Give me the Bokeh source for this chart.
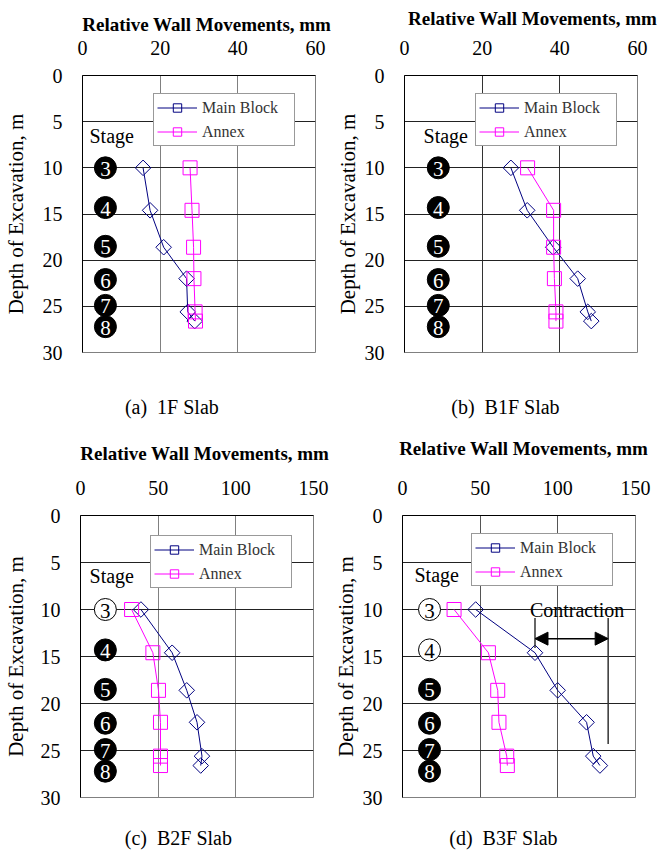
from bokeh.plotting import figure
from bokeh.models import (Range1d, FixedTicker, Legend, LegendItem, Arrow, NormalHead,
                          Label, LinearAxis)
from bokeh.layouts import column, row
from bokeh.core.properties import value
from bokeh.embed import file_html
from bokeh.resources import INLINE

# ---------------- data ----------------
depth = [10.0, 14.6, 18.6, 22.0, 25.6, 26.6]

main_1f = [15.6, 17.4, 20.9, 26.8, 27.1, 28.9]
annex_1f = [27.7, 28.2, 28.6, 28.7, 29.0, 29.1]

main_b1f = [27.4, 31.6, 38.3, 44.6, 47.2, 48.1]
annex_b1f = [31.7, 38.4, 38.4, 38.6, 39.0, 39.0]

main_b2f = [38.9, 59.0, 68.4, 75.0, 78.2, 77.4]
annex_b2f = [32.9, 46.6, 50.2, 51.5, 51.5, 51.5]

main_b3f = [47.1, 85.3, 99.9, 118.5, 122.8, 127.1]
annex_b3f = [33.2, 55.3, 61.3, 62.1, 67.1, 67.5]

stages = ["3", "4", "5", "6", "7", "8"]
stage_depth = [10.0, 14.3, 18.5, 22.1, 24.9, 27.2]

depth_ticks = [0, 5, 10, 15, 20, 25, 30]
ticks_small = [0, 20, 40, 60]
ticks_large = [0, 50, 100, 150]

x_title = "Relative Wall Movements, mm"
y_title = "Depth of Excavation, m"
captions = ["(a)\u00a0 1F Slab", "(b)\u00a0 B1F Slab", "(c)\u00a0 B2F Slab", "(d)\u00a0 B3F Slab"]
series_names = ["Main Block", "Annex"]

FONT = "Liberation Serif"
MAIN_COLOR = "#000080"
ANNEX_COLOR = "#FF00FF"


def text_axis(tick, text, size, style, standoff):
    """An axis without line or ticks that carries one text (title/caption)."""
    ax = LinearAxis(ticker=FixedTicker(ticks=[tick]),
                    major_label_overrides={tick: text})
    ax.major_label_text_font = FONT
    ax.major_label_text_font_size = size
    ax.major_label_text_font_style = style
    ax.major_label_text_color = "black"
    ax.major_label_standoff = standoff
    ax.axis_line_color = None
    ax.major_tick_in = 0
    ax.major_tick_out = 0
    ax.minor_tick_in = 0
    ax.minor_tick_out = 0
    return ax


def panel(main, annex, xticks, caption, w, h, bl, br, bt, bb, open_stages,
          stage_x, word_x, word_y, ylab_standoff, vgrid_color,
          title_tick, title_standoff, cap_tick, cap_standoff, legend_xy):
    p = figure(width=w, height=h, x_range=Range1d(xticks[0], xticks[-1]),
               y_range=Range1d(30, 0), x_axis_location="above",
               output_backend="svg", toolbar_location=None, title=None,
               min_border_left=bl, min_border_right=br,
               min_border_top=bt, min_border_bottom=bb)
    p.background_fill_color = "white"
    p.border_fill_color = "white"
    p.outline_line_color = "#808080"
    p.outline_line_width = 1

    xa = p.xaxis[0]
    xa.ticker = FixedTicker(ticks=xticks)
    xa.major_label_text_font = FONT
    xa.major_label_text_font_size = "20px"
    xa.major_label_text_color = "black"
    xa.major_label_standoff = 21
    xa.major_tick_in = 0
    xa.major_tick_out = 0
    xa.minor_tick_in = 0
    xa.minor_tick_out = 0
    xa.axis_line_color = "black"

    ya = p.yaxis[0]
    ya.ticker = FixedTicker(ticks=depth_ticks)
    ya.major_label_text_font = FONT
    ya.major_label_text_font_size = "20px"
    ya.major_label_text_color = "black"
    ya.major_label_standoff = 20
    ya.major_tick_in = 0
    ya.major_tick_out = 0
    ya.minor_tick_in = 0
    ya.minor_tick_out = 0
    ya.axis_line_color = "black"
    ya.axis_label = y_title
    ya.axis_label_text_font = FONT
    ya.axis_label_text_font_size = "21px"
    ya.axis_label_text_font_style = "normal"
    ya.axis_label_text_color = "black"
    ya.axis_label_standoff = ylab_standoff

    p.xgrid.ticker = FixedTicker(ticks=xticks)
    p.ygrid.ticker = FixedTicker(ticks=depth_ticks)
    p.xgrid.grid_line_color = vgrid_color
    p.ygrid.grid_line_color = "#222222"

    # axis title (above the tick labels) and caption (below the frame)
    p.add_layout(text_axis(title_tick, x_title, "19px", "bold", title_standoff), "above")
    p.add_layout(text_axis(cap_tick, caption, "20px", "normal", cap_standoff), "below")

    # stage markers
    p.text(x=[word_x], y=[word_y], text=["Stage"], text_font=value(FONT),
           text_font_size="20px", text_align="left", text_baseline="middle",
           text_color="black")
    fills = ["white" if s in open_stages else "black" for s in stages]
    digit_cols = ["black" if s in open_stages else "white" for s in stages]
    p.scatter(x=[stage_x] * len(stages), y=stage_depth, marker="circle",
              size=22, fill_color=fills, line_color="black", line_width=1)
    p.text(x=[stage_x] * len(stages), y=stage_depth, text=stages,
           text_font=value(FONT), text_font_size="21px", text_align="center",
           text_baseline="middle", text_color=digit_cols, y_offset=1)

    # series
    ml = p.line(main, depth, line_color=MAIN_COLOR, line_width=1)
    mp = p.scatter(main, depth, marker="square", angle=0.785398, size=11,
                   fill_color=None, line_color=MAIN_COLOR, line_width=1)
    al = p.line(annex, depth, line_color=ANNEX_COLOR, line_width=1)
    ap = p.scatter(annex, depth, marker="square", size=14, fill_color=None,
                   line_color=ANNEX_COLOR, line_width=1)

    leg = Legend(items=[LegendItem(label=series_names[0], renderers=[ml, mp]),
                        LegendItem(label=series_names[1], renderers=[al, ap])],
                 location=legend_xy, margin=0, padding=3, spacing=3,
                 glyph_width=40, glyph_height=21, label_height=21,
                 label_width=89, label_standoff=5,
                 label_text_font=FONT, label_text_font_size="16px",
                 label_text_color="#333333", border_line_color="#333333",
                 border_line_width=1, background_fill_color="white",
                 background_fill_alpha=1)
    p.add_layout(leg)
    return p


pa = panel(main_1f, annex_1f, ticks_small, captions[0], 332, 425, 81, 17, 75, 73,
           [], 5.9, 1.8, 6.5, 12, "#808080", 32, 3, 23, 43, (71, 206))
pb = panel(main_b1f, annex_b1f, ticks_small, captions[1], 333, 425, 71, 28, 75, 73,
           [], 8.7, 4.9, 6.5, 2, "#333333", 33, 9, 26, 43, (71, 206))
pc = panel(main_b2f, annex_b2f, ticks_large, captions[2], 330, 426, 79, 17, 90, 54,
           ["3"], 16.0, 5.8, 6.4, 10, "#808080", 80, 14, 63, 29, (70, 209))
pd = panel(main_b3f, annex_b3f, ticks_large, captions[3], 335, 426, 71, 30, 90, 54,
           ["3", "4"], 17.4, 7.7, 6.3, 2, "#555555", 78, 19, 65, 29, (69, 211))

# contraction annotation on (d)
contr_x = [main_b3f[1], 132.4]
pd.segment(x0=contr_x, y0=[10.9, 10.9], x1=contr_x, y1=[14.1, 24.3],
           line_color="#333333", line_width=1.5)
pd.add_layout(Arrow(start=NormalHead(size=13, fill_color="black", line_color="black"),
                    end=NormalHead(size=13, fill_color="black", line_color="black"),
                    x_start=contr_x[0], y_start=13.1, x_end=contr_x[1], y_end=13.1,
                    line_color="black", line_width=1.5))
pd.add_layout(Label(x=112.4, y=10.1, text="Contraction", text_font=FONT,
                    text_font_size="20px", text_align="center",
                    text_baseline="middle", text_color="black"))

layout = column(row(pa, pb), row(pc, pd))

open("out.html", "w").write(file_html(layout, INLINE))
